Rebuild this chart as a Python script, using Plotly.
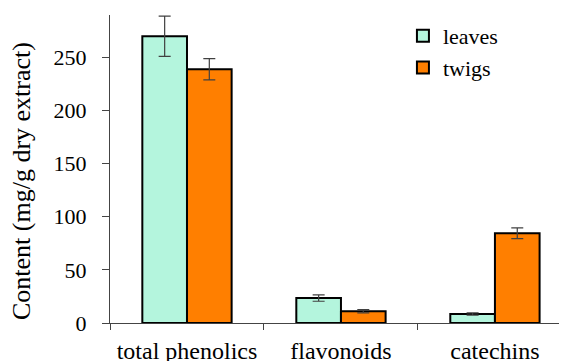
import plotly.graph_objects as go

categories = ["total phenolics", "flavonoids", "catechins"]
leaves = [270, 23.5, 8.5]
leaves_err = [19, 3, 1]
twigs = [239, 11, 84.5]
twigs_err = [10, 1.5, 5]
y_ticks = [0, 50, 100, 150, 200, 250]
y_title = "Content (mg/g dry extract)"

font = "Liberation Serif"

fig = go.Figure()
fig.add_bar(name="leaves", x=categories, y=leaves,
            marker=dict(color="#b4f5dd", line=dict(color="black", width=2)),
            error_y=dict(type="data", array=leaves_err, color="#404040", thickness=1.2, width=6))
fig.add_bar(name="twigs", x=categories, y=twigs,
            marker=dict(color="#ff7f00", line=dict(color="black", width=2)),
            error_y=dict(type="data", array=twigs_err, color="#404040", thickness=1.2, width=6))

fig.add_annotation(text=y_title, textangle=-90, xref="paper", yref="paper",
                   x=-0.1947, y=0.461, xanchor="center", yanchor="middle",
                   showarrow=False, font=dict(family=font, size=26, color="black"))

fig.update_layout(
    width=559, height=353,
    margin=dict(l=102, r=0, t=7, b=38),
    paper_bgcolor="white", plot_bgcolor="white",
    barmode="group", bargap=0.42, bargroupgap=0,
    font=dict(family=font, size=22, color="black"),
    showlegend=True,
    legend=dict(x=0.641, y=1.0, xanchor="left", yanchor="top",
                font=dict(family=font, size=22, color="black"),
                bgcolor="rgba(0,0,0,0)", itemwidth=30, tracegroupgap=0),
    xaxis=dict(range=[-0.5, 2.468], showline=True, linecolor="#444", linewidth=1.2,
               ticks="outside", tickson="boundaries", ticklen=6, tickcolor="#444",
               ticklabelstandoff=6,
               tickfont=dict(family=font, size=24), showgrid=False, automargin=False),
    yaxis=dict(range=[0, 290], showline=True, linecolor="#444", linewidth=1.2,
               ticks="outside", ticklen=7, tickcolor="#444", tickvals=y_ticks,
               ticklabelstandoff=11, automargin=False,
               tickfont=dict(family=font, size=22), showgrid=False, zeroline=False),
)

fig.write_html("out.html")
